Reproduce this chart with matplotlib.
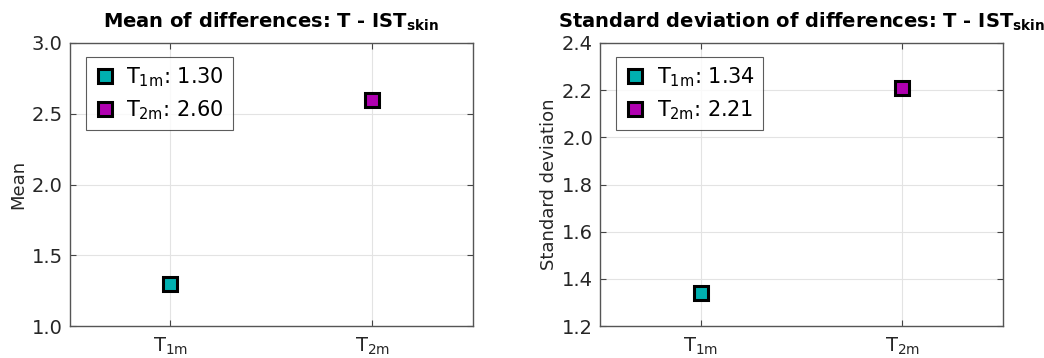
import matplotlib
matplotlib.use("Agg")
import matplotlib.pyplot as plt

# data
cats = ["1m", "2m"]
mean_vals = [1.30, 2.60]
std_vals = [1.34, 2.21]
colors = ["#00b0b0", "#b000b0"]

plt.rcParams['font.family'] = ['DejaVu Sans']
plt.rcParams['mathtext.fontset'] = 'dejavusans'

fig = plt.figure(figsize=(10.44, 3.58), dpi=100)
ax1 = fig.add_axes([69.7/1044, 1-326/358, 403/1044, 283/358])
ax2 = fig.add_axes([600/1044, 1-326/358, 403/1044, 283/358])

def panel(ax, vals, title, ylab, ylim, yticks, fmt):
    for i, (c, v) in enumerate(zip(cats, vals)):
        ax.plot(i + 1, v, 's', ms=10.5, mfc=colors[i], mec='black', mew=2.2,
                label=r'$\mathregular{T_{%s}}$: %s' % (c, fmt % v), zorder=3)
    ax.set_xlim(0.5, 2.5)
    ax.set_ylim(*ylim)
    ax.set_yticks(yticks)
    ax.set_yticklabels(["%.1f" % t for t in yticks])
    ax.set_xticks([1, 2])
    ax.set_xticklabels([r'$\mathregular{T_{%s}}$' % c for c in cats])
    ax.grid(True, color='#e3e3e3', lw=0.8)
    ax.set_axisbelow(True)
    for s in ax.spines.values():
        s.set_color('#555555')
        s.set_linewidth(1.0)
    ax.tick_params(direction='in', top=True, right=True, length=4,
                   color='#444444', labelcolor='#262626', labelsize=14)
    ax.tick_params(axis='x', pad=7)
    ax.tick_params(axis='y', pad=5)
    ax.set_title(title, fontsize=14, fontweight='bold', pad=11)
    ax.set_ylabel(ylab, fontsize=13, color='#262626', labelpad=3)
    leg = ax.legend(loc='upper left', bbox_to_anchor=(0.04, 0.95), fontsize=15,
                    frameon=True, fancybox=False, edgecolor='#333333',
                    borderpad=0.4, handletextpad=0.55, labelspacing=0.45,
                    handlelength=1.0, borderaxespad=0)
    leg.get_frame().set_linewidth(0.8)

panel(ax1, mean_vals, r'Mean of differences: T - IST$_{\mathbf{skin}}$', 'Mean',
      (1.0, 3.0), [1.0, 1.5, 2.0, 2.5, 3.0], "%.2f")
panel(ax2, std_vals, r'Standard deviation of differences: T - IST$_{\mathbf{skin}}$',
      'Standard deviation', (1.2, 2.4), [1.2, 1.4, 1.6, 1.8, 2.0, 2.2, 2.4], "%.2f")

fig.savefig("out.png", dpi=100)
